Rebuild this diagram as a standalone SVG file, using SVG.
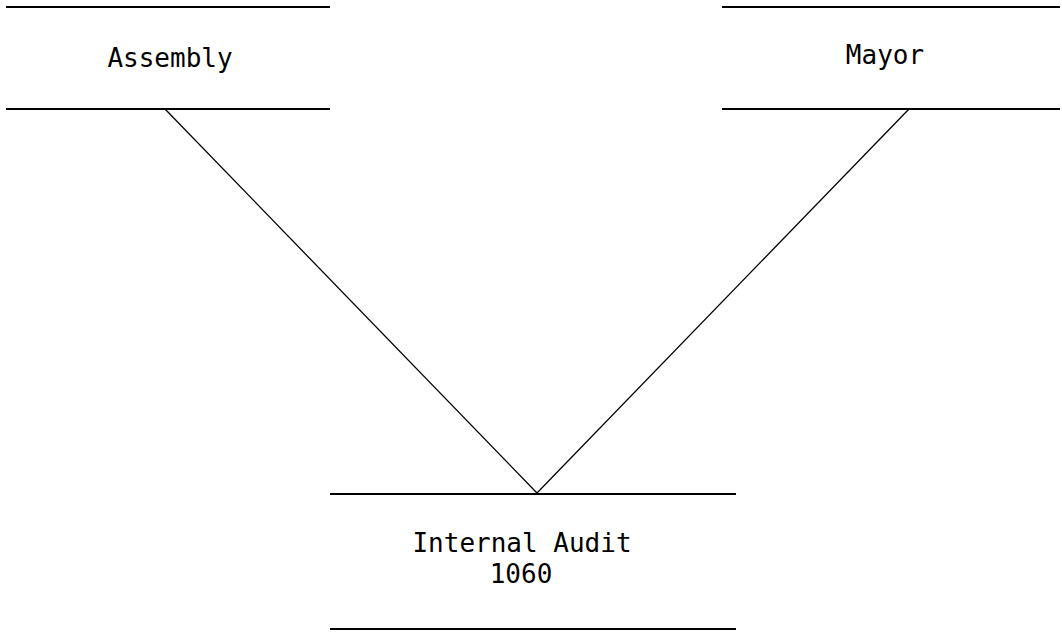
<svg xmlns="http://www.w3.org/2000/svg" width="1062" height="634" viewBox="0 0 1062 634">
<style>
.rule{stroke:#000;stroke-width:2;fill:none}
.conn{stroke:#000;stroke-width:1.3;fill:none}
text{font-family:"DejaVu Sans Mono","Liberation Mono",monospace;font-size:26px;fill:#000;text-anchor:middle}
</style>
<rect width="1062" height="634" fill="#fff"/>
<g id="connectors">
<line class="conn" x1="165" y1="109" x2="537" y2="493"/>
<line class="conn" x1="909" y1="109" x2="537" y2="493"/>
</g>
<g id="assembly">
<line class="rule" x1="6" y1="7" x2="330" y2="7"/>
<line class="rule" x1="6" y1="109" x2="330" y2="109"/>
<text x="170" y="67">Assembly</text>
</g>
<g id="mayor">
<line class="rule" x1="722" y1="7" x2="1060" y2="7"/>
<line class="rule" x1="722" y1="109" x2="1060" y2="109"/>
<text x="885" y="64">Mayor</text>
</g>
<g id="internal-audit">
<line class="rule" x1="330" y1="494" x2="736" y2="494"/>
<line class="rule" x1="330" y1="629" x2="736" y2="629"/>
<text x="522" y="552">Internal Audit</text>
<text x="521" y="583">1060</text>
</g>
</svg>
